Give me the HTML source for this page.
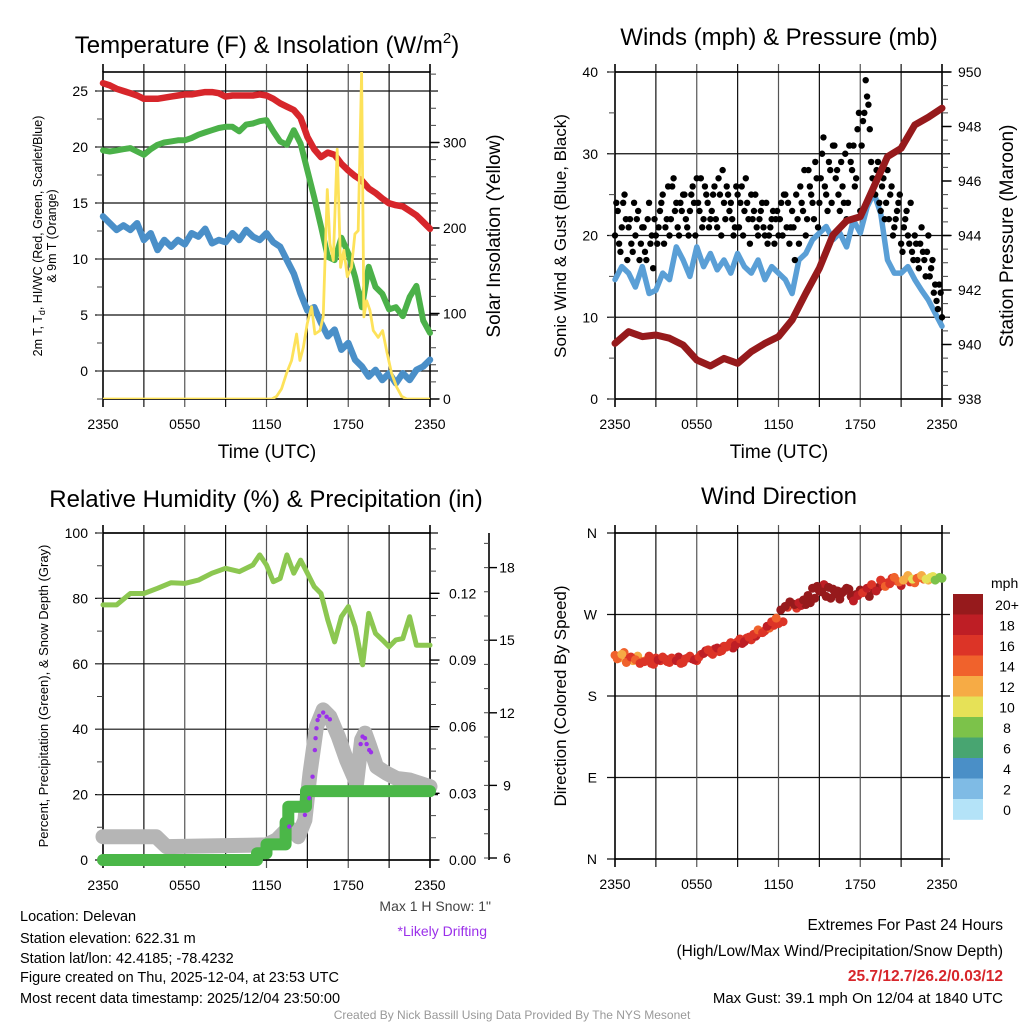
<!DOCTYPE html>
<html><head><meta charset="utf-8"><title>Mesonet Station Meteogram</title>
<style>
html,body{margin:0;padding:0;background:#fff;}
svg{display:block;font-family:"Liberation Sans",Arial,sans-serif;}
</style></head>
<body>
<svg id="chart" width="1024" height="1024" viewBox="0 0 1024 1024" xmlns="http://www.w3.org/2000/svg">
<rect width="1024" height="1024" fill="#fff"/>
</svg>
<script>
// ---------- DATA ----------
const timeLabels = ["2350","0550","1150","1750","2350"];
const timeTickHours = [0,6,12,18,24];
// Panel 1 (half-hourly, h = 0..24)
const tempRed = [25.7,25.5,25.2,25.0,24.8,24.6,24.3,24.3,24.3,24.4,24.5,24.6,24.7,24.7,24.8,24.9,24.9,24.8,24.5,24.6,24.6,24.6,24.6,24.7,24.6,24.3,23.9,23.6,23.3,22.6,20.9,19.8,19.1,19.5,19.3,18.5,17.9,17.4,17.0,16.3,15.9,15.4,14.97,14.8,14.7,14.3,13.9,13.3,12.7];
const tempGreen = [19.7,19.6,19.7,19.8,19.9,19.6,19.3,19.8,20.2,20.4,20.5,20.6,20.6,20.8,21.1,21.3,21.5,21.7,21.8,21.8,21.4,22.0,22.1,22.3,22.4,21.4,20.5,20.2,21.5,20.3,17.9,15.5,12.9,10.2,9.9,11.9,10.5,8.4,5.7,9.3,7.5,6.9,5.5,5.7,4.9,6.6,7.6,4.5,3.4];
const tempBlue = [13.8,13.2,12.6,13.0,12.6,13.2,11.7,12.3,10.8,11.7,11.1,11.7,11.3,12.3,12.0,12.7,11.4,11.7,11.5,12.3,11.7,12.6,12.0,11.7,12.3,11.5,11.1,9.9,8.7,6.9,5.4,5.7,4.3,3.1,3.7,1.9,2.5,1.0,0.4,-0.5,0.1,-0.8,-0.2,-1.1,-0.2,-0.8,0.1,0.4,1.0];
const solarTimes = [0,12.4,12.74,13.11,13.47,13.84,14.21,14.45,14.70,14.99,15.31,15.55,15.92,16.16,16.46,16.65,16.90,17.19,17.44,17.68,17.93,18.24,18.49,18.73,18.98,19.15,19.35,19.59,19.84,20.20,20.52,20.82,21.18,21.55,21.92,22.29,24];
const solarVals  = [0,0,3,12,30,45,76,45,60,88,108,76,80,96,245,182,162,292,154,174,143,154,193,197,382,96,115,104,80,72,80,56,30,14,3,0,0];
// Panel 2
const windSustained = [14.6,16.2,15.4,13.7,16.2,12.9,13.3,15.4,14.6,18.6,17.0,15.0,18.6,16.2,17.8,15.8,17.0,15.4,17.8,16.2,15.4,17.0,14.6,16.2,15.4,14.6,12.9,17.0,17.8,19.5,20.3,21.1,19.5,20.3,18.6,21.9,20.3,23.5,25.2,22.7,17.0,15.4,15.4,16.2,14.6,13.3,12.1,10.5,8.9];
const windGust = [20,23,18,24,22,21, 19,24,22,17,21, 18,22,19,16,20, 21,24,19,22,20, 26,23,21,24,25, 22,20,25,24,27, 23,21,26,24,22, 25,22,27,20,24, 26,23,22,21,25, 24,20,27,22,25, 23,21,22,24,20, 19,21,23,22,20, 24,25,21,19,23, 17,22,26,23,20, 28,25,22,27,24, 30,26,23,28,31, 27,25,29,24,22, 31,28,26,33,23, 34,39,36,29,26, 28,24,26,22,28, 25,20,22,24,19, 21,23,19,18,20, 17,19,18,15,20, 16,13,12,14,10];
const windGust2 = [24,19,21,25,17, 22,18,20,23,19, 21,17,24,20,22, 19,23,25,21,26, 22,27,24,20,23, 25,21,23,26,20, 24,27,22,25,21, 23,26,21,25,28, 22,25,24,20,26, 21,26,23,24,19, 22,25,20,23,21, 24,20,22,19,23, 22,20,25,24,21, 21,25,19,24,28, 22,26,24,29,21, 27,32,25,29,24, 31,28,23,26,30, 24,29,31,27,35, 31,35,37,33,27, 25,29,23,27,24, 22,26,21,23,25, 18,22,20,24,17, 19,16,21,17,18, 15,17,14,11,13];
const pressure = [940.04,940.47,940.29,940.35,940.23,939.98,939.43,939.21,939.49,939.31,939.74,940.04,940.29,940.90,941.88,942.80,944.02,944.54,944.69,945.79,946.89,947.20,948.06,948.34,948.67];
// Panel 3
const rhTimes = [0,1,2,3,4,5,6,7,8,9,10,11,11.5,12,12.5,13,13.5,14,14.5,15,15.5,16,16.5,17,17.5,18,18.5,19.05,19.5,20,20.5,21,21.5,22,22.5,23,24];
const rhVals  = [78.0,78.0,81.5,81.5,83.1,84.8,84.6,85.6,87.7,89.2,88.2,90.2,93.3,90.2,85.1,86.1,93.3,87.7,91.7,87.7,83.6,81.5,73.4,66.7,74.4,77.5,71.3,59.7,75.4,69.3,67.3,65.2,67.3,67.7,74.4,65.7,65.7];
const snowTimes = [0,3.9,4.65,12.0,12.74,13.47,13.96,14.33,14.82,15.19,15.67,16.16,16.65,17.27,17.88,18.61,18.98,19.23,19.59,20.08,20.82,21.55,22.53,24];
const snowVals  = [6.88,6.88,6.47,6.54,6.75,7.16,7.16,6.88,7.57,9.50,11.43,12.12,11.84,11.02,10.05,9.09,10.88,11.16,10.60,9.77,9.50,9.29,9.22,8.95];
const driftTimes = [13.67,14.82,15.14,15.38,15.55,15.60,15.67,15.75,15.87,16.16,16.41,16.65,18.91,19.05,19.23,19.35,19.54,19.67];
const driftVals  = [7.30,7.78,8.47,9.36,10.46,10.95,11.36,11.70,11.87,12.01,11.84,11.73,10.71,11.02,10.95,10.71,10.46,10.37];
const precipTimes = [0,11.3,12.0,13.4,13.6,14.9,24];
const precipVals  = [0,0.003,0.007,0.017,0.024,0.031,0.031];
// Panel 4 (every 1/3 h)
const windDir = [225,222,228,221,219,224,218, 220,216,222,219,221,217, 220,223,217,222,221,219, 226,230,228,232,229,235, 236,233,240,238,244,242, 246,250,252,255,258,260, 262,278,282,277,280,281, 283,288,296,303,300,298, 296,294,299,290,292,297, 295,290,297,300,302,305, 310,307,302,309,306,305, 311,309,308,312,310,310];
const windDirSpeed = [14,13,15,16,13,12,14, 13,16,17,16,18,17, 17,18,16,17,18,17, 17,18,17,18,16,17, 17,18,17,18,16,17, 18,17,17,14,17,16, 17,16,14,17,18,20, 21,20,21,19,20,21, 20,21,21,20,21,21, 19,20,21,22,18,17, 16,17,18,19,16,15, 15,14,13,11,10,8];
// second set, offset by 1/6 h
const windDir2 = [221,226,217,223,220,216, 218,224,215,220,223,218, 222,219,216,221,224,220, 223,227,231,226,233,230, 234,239,236,243,240,245, 248,253,250,257,262,266, 275,279,284,281,283,286, 291,299,301,295,290,288, 293,287,296,298,285,291, 294,299,303,296,308,301, 304,311,306,308,313,309, 310,313,309,311,308,311];
const windDirSpeed2 = [15,13,14,16,15,17, 16,17,16,18,17,16, 17,18,17,16,17,18, 17,18,16,17,18,17, 17,16,18,17,18,16, 17,15,17,18,16,14, 20,21,20,21,19,20, 21,20,21,20,21,20, 20,21,20,21,19,18, 17,18,16,19,17,15, 16,15,14,13,12,11, 14,12,11,10,9,8];
const speedBinLabels = ["0","2","4","6","8","10","12","14","16","18","20+"];
const speedBinColors = ["#b4e3f8","#7fbbe5","#4a8fc7","#48a571","#7cc24a","#e6e157","#f6ab45","#f0622c","#dc3427","#be1e25","#961a1c"];
// Tick label arrays
const tempTicks = [0,5,10,15,20,25];
const solarTicks = [0,100,200,300];
const windTicks = [0,10,20,30,40];
const presTicks = [938,940,942,944,946,948,950];
const rhTicks = [0,20,40,60,80,100];
const precipTicks = ["0.00","0.03","0.06","0.09","0.12"];
const snowTicks = [6,9,12,15,18];
const dirLabels = ["N","E","S","W","N"];
const dirTickDeg = [0,90,180,270,360];

// ---------- HELPERS ----------
const NS = "http://www.w3.org/2000/svg";
const svg = document.getElementById("chart");
function mk(tag, parent){ const e=document.createElementNS(NS,tag); (parent||svg).appendChild(e); return e; }
function txt(parent, x, y, s, size, anchor, fill){
  const t=mk("text",parent); t.setAttribute("x",x); t.setAttribute("y",y);
  t.setAttribute("font-size",size); t.setAttribute("text-anchor",anchor||"start");
  t.setAttribute("fill",fill||"#000"); t.textContent=s; return t;
}
function path(parent, d, stroke, w){
  const p=mk("path",parent); p.setAttribute("d",d); p.setAttribute("fill","none");
  p.setAttribute("stroke",stroke); p.setAttribute("stroke-width",w);
  p.setAttribute("stroke-linejoin","round"); p.setAttribute("stroke-linecap","round"); return p;
}
function lineD(ts, vs, xs, ys){ return ts.map((t,i)=>(i?"L":"M")+xs(t).toFixed(1)+","+ys(vs[i]).toFixed(1)).join(""); }
function idxTimes(n, step){ const a=[]; for(let i=0;i<n;i++) a.push(i*step); return a; }

function frame(g, P, name){
  for(let h=3; h<24; h+=3){
    const x=P.xs(h);
    const l=mk("line",g); l.setAttribute("x1",x); l.setAttribute("x2",x); l.setAttribute("y1",P.y0-8); l.setAttribute("y2",P.y1+8);
    l.setAttribute("stroke",(h%6===0)?"#555":"#111"); l.setAttribute("stroke-width",1.2);
    
    
  }
  const r=mk("rect",g); r.setAttribute("x",P.x0); r.setAttribute("y",P.y0); r.setAttribute("width",P.x1-P.x0); r.setAttribute("height",P.y1-P.y0);
  r.setAttribute("fill","none"); r.setAttribute("stroke","#000"); r.setAttribute("stroke-width",1.6);
  
  
  [0,24].forEach(h=>{ const x=P.xs(h); path(g,"M"+x+","+(P.y0-8)+"L"+x+","+P.y0+"M"+x+","+P.y1+"L"+x+","+(P.y1+8),"#000",1.6).setAttribute("stroke-linecap","butt"); });
  timeLabels.forEach((s,i)=>{ const t=txt(g,P.xs(timeTickHours[i]),P.y1+30,s,14,"middle");
    
     });
}
function hgrid(g, P, vals, ys, name){
  vals.forEach(v=>{ const y=ys(v); const l=mk("line",g); l.setAttribute("x1",P.x0-8); l.setAttribute("x2",P.x1+8); l.setAttribute("y1",y); l.setAttribute("y2",y);
    l.setAttribute("stroke","#111"); l.setAttribute("stroke-width",1.2);
    
     });
}
function minorTicks(g, x, from, to, step, ys, dir, len){
  let d=""; for(let v=from; v<=to+1e-9; v+=step){ const y=ys(v); d+="M"+x+","+y.toFixed(1)+"L"+(x+dir*len)+","+y.toFixed(1); }
  path(g,d,"#444",1).setAttribute("stroke-linecap","butt");
}
function rotText(parent, x, y, s, size, fill){
  const t=txt(parent,0,0,s,size,"middle",fill); t.setAttribute("transform","translate("+x+","+y+") rotate(-90)"); return t;
}

// ================= PANEL 1 =================
const P1={x0:103,x1:430,y0:72,y1:399}; P1.xs=h=>P1.x0+h/24*(P1.x1-P1.x0);
const yT=v=>371-v*11.2, yS=v=>399-v*0.855;
const g1=mk("g");  
hgrid(g1,P1,tempTicks,yT,"temp");
frame(g1,P1,"temp");
minorTicks(g1,P1.x0,-2.5,25,2.5,yT,-1,6);
minorTicks(g1,P1.x1,0,380,20,yS,1,6);
tempTicks.forEach(v=>{ const t=txt(g1,88,yT(v)+5,String(v),14,"end");   });
solarTicks.forEach(v=>{ path(g1,"M"+P1.x1+","+yS(v)+"L"+(P1.x1+9)+","+yS(v),"#000",1.4);
  const t=txt(g1,443,yS(v)+5,String(v),14,"start");   });
const half=idxTimes(49,0.5);
const sRed=path(g1,lineD(half,tempRed,P1.xs,yT),"#d7262b",6.5);  
const sGrn=path(g1,lineD(half,tempGreen,P1.xs,yT),"#4bb149",6);  
const sBlu=path(g1,lineD(half,tempBlue,P1.xs,yT),"#4a8fc8",6.5);  
const cp=mk("clipPath"); cp.setAttribute("id","c1"); const cr=mk("rect",cp); cr.setAttribute("x",P1.x0); cr.setAttribute("y",P1.y0); cr.setAttribute("width",P1.x1-P1.x0); cr.setAttribute("height",P1.y1-P1.y0);
const sSol=path(g1,lineD(solarTimes,solarVals,P1.xs,yS),"#fde25a",2.8); sSol.setAttribute("clip-path","url(#c1)");  
const t1=txt(g1,267,53,"Temperature (F) & Insolation (W/m",24,"middle"); const sup=mk("tspan",t1); sup.setAttribute("dy",-10); sup.setAttribute("font-size",15); sup.textContent="2"; const cl=mk("tspan",t1); cl.setAttribute("dy",10); cl.textContent=")";
 
const xt1=txt(g1,267,458,"Time (UTC)",19,"middle");  
const yl1=rotText(g1,42,236,"",12.5); yl1.textContent="2m T, T"; const sb=mk("tspan",yl1); sb.setAttribute("font-size",9); sb.setAttribute("dy",3); sb.textContent="d"; const sb2=mk("tspan",yl1); sb2.setAttribute("dy",-3); sb2.textContent=", HI/WC (Red, Green, Scarlet/Blue)";
 
const yl1b=rotText(g1,56,236,"& 9m T (Orange)",12.5);  
const yr1=rotText(g1,500,236,"Solar Insolation (Yellow)",19);  

// ================= PANEL 2 =================
const P2={x0:615,x1:942,y0:72,y1:399}; P2.xs=h=>P2.x0+h/24*(P2.x1-P2.x0);
const yW=v=>399-v*8.175, yP=v=>399-(v-938)*27.25;
const g2=mk("g");  
hgrid(g2,P2,windTicks,yW,"wind");
frame(g2,P2,"wind");
minorTicks(g2,P2.x0,0,40,5,yW,-1,6);
minorTicks(g2,P2.x1,938,950,0.5,yP,1,6);
windTicks.forEach(v=>{ const t=txt(g2,598,yW(v)+5,String(v),14,"end");   });
presTicks.forEach(v=>{ path(g2,"M"+P2.x1+","+yP(v)+"L"+(P2.x1+9)+","+yP(v),"#000",1.4);
  const t=txt(g2,958,yP(v)+5,String(v),14,"start");   });
const sWind=path(g2,lineD(half,windSustained,P2.xs,yW),"#5a9fd6",5.5);  
windGust.forEach((v,i)=>{ const c=mk("circle",g2); c.setAttribute("cx",P2.xs(i*0.2)); c.setAttribute("cy",yW(v)); c.setAttribute("r",3.2); c.setAttribute("fill","#000");
    });
windGust2.forEach((v,i)=>{ const c=mk("circle",g2); c.setAttribute("cx",P2.xs(0.1+i*0.2)); c.setAttribute("cy",yW(v)); c.setAttribute("r",3.2); c.setAttribute("fill","#000");
    });
const sPres=path(g2,lineD(idxTimes(25,1),pressure,P2.xs,yP),"#961a1c",7);  
const t2=txt(g2,779,45,"Winds (mph) & Pressure (mb)",24,"middle");  
const xt2=txt(g2,779,458,"Time (UTC)",19,"middle");  
const yl2=rotText(g2,566,236,"Sonic Wind & Gust (Blue, Black)",17);  
const yr2=rotText(g2,1013,236,"Station Pressure (Maroon)",19);  

// ================= PANEL 3 =================
const P3={x0:103,x1:430,y0:533,y1:860}; P3.xs=h=>P3.x0+h/24*(P3.x1-P3.x0);
const yR=v=>860-v*3.27, yPr=v=>860-v*2222, ySn=v=>858-(v-6)*24.2;
const g3=mk("g");  
hgrid(g3,P3,rhTicks,yR,"rh");
frame(g3,P3,"rh");
minorTicks(g3,P3.x0,0,100,10,yR,-1,6);
minorTicks(g3,P3.x1,0,0.147,0.01,yPr,1,6);
rhTicks.forEach(v=>{ const t=txt(g3,88,yR(v)+5,String(v),14,"end");   });
precipTicks.forEach(s=>{ const v=parseFloat(s); path(g3,"M"+P3.x1+","+yPr(v)+"L"+(P3.x1+9)+","+yPr(v),"#000",1.4);
  const t=txt(g3,449,yPr(v)+5,s,14,"start");   });
const sax=path(g3,"M489,533L489,860","#000",1.6); sax.setAttribute("stroke-linecap","butt");  
minorTicks(g3,489,6,19,1,ySn,-1,5);
snowTicks.forEach(v=>{ path(g3,"M489,"+ySn(v)+"L497,"+ySn(v),"#000",1.4).setAttribute("stroke-linecap","butt");
  const t=txt(g3,507,ySn(v)+5,String(v),14,"middle");   });
const sRh=path(g3,lineD(rhTimes,rhVals,P3.xs,yR),"#8cc751",5);  
const sSn=path(g3,lineD(snowTimes,snowVals,P3.xs,ySn),"#b5b5b5",15);  
let pd=""; precipTimes.forEach((t,i)=>{ const x=P3.xs(t).toFixed(1), y=yPr(precipVals[i]).toFixed(1);
  if(i===0) pd+="M"+x+","+y; else { pd+="L"+x+","+yPr(precipVals[i-1]).toFixed(1)+"L"+x+","+y; } });
const sPr=path(g3,pd,"#4bb748",12);  
driftVals.forEach((v,i)=>{ const c=mk("circle",g3); c.setAttribute("cx",P3.xs(driftTimes[i])); c.setAttribute("cy",ySn(v)); c.setAttribute("r",2.2); c.setAttribute("fill","#9b30ea");
    });
const t3=txt(g3,266,507,"Relative Humidity (%) & Precipitation (in)",24,"middle");  
const yl3=rotText(g3,48,696,"Percent, Precipitation (Green), & Snow Depth (Gray)",13);  
const ms=txt(g3,491,911,"Max 1 H Snow: 1\"",14,"end","#444");  
const ld=txt(g3,487,936,"*Likely Drifting",14,"end","#9b30ea");  

// ================= PANEL 4 =================
const P4={x0:615,x1:942,y0:533,y1:859}; P4.xs=h=>P4.x0+h/24*(P4.x1-P4.x0);
const yD=d=>859-d*326/360;
const g4=mk("g");  
hgrid(g4,P4,dirTickDeg,yD,"dir");
frame(g4,P4,"dir");
dirLabels.forEach((s,i)=>{ const t=txt(g4,597,yD(dirTickDeg[i])+5,s,14,"end");   });
windDir.forEach((d,i)=>{ const c=mk("circle",g4); c.setAttribute("cx",P4.xs(i/3)); c.setAttribute("cy",yD(d)); c.setAttribute("r",4.5);
  c.setAttribute("fill",speedBinColors[Math.min(10,Math.floor(windDirSpeed[i]/2))]);
    });
windDir2.forEach((d,i)=>{ const c=mk("circle",g4); c.setAttribute("cx",P4.xs(i/3+1/6)); c.setAttribute("cy",yD(d)); c.setAttribute("r",4.5);
  c.setAttribute("fill",speedBinColors[Math.min(10,Math.floor(windDirSpeed2[i]/2))]);
    });
const t4=txt(g4,779,504,"Wind Direction",24,"middle");  
const yl4=rotText(g4,566,696,"Direction (Colored By Speed)",17);  
const cb=mk("g",g4);  
const mph=txt(cb,991,588,"mph",14,"start");  
speedBinLabels.forEach((s,i)=>{ const k=10-i; const y=594+i*20.5;
  const r=mk("rect",cb); r.setAttribute("x",953); r.setAttribute("y",y); r.setAttribute("width",30); r.setAttribute("height",20.8); r.setAttribute("fill",speedBinColors[k]);
   
  const t=txt(cb,1007,y+16,speedBinLabels[k],14,"middle");   });

// ================= FOOTER TEXT =================
const info=["Location: Delevan","Station elevation: 622.31 m","Station lat/lon: 42.4185; -78.4232","Figure created on Thu, 2025-12-04, at 23:53 UTC","Most recent data timestamp: 2025/12/04 23:50:00"];
const infoY=[921,943,963,982,1003];
info.forEach((s,i)=>{ const t=txt(svg,20,infoY[i],s,14.5,"start");   });
const e1=txt(svg,1003,930,"Extremes For Past 24 Hours",15.5,"end");  
const e2=txt(svg,1003,956,"(High/Low/Max Wind/Precipitation/Snow Depth)",15.5,"end");  
const e3=txt(svg,1003,981,"25.7/12.7/26.2/0.03/12",15.5,"end","#d7262b"); e3.setAttribute("font-weight","bold");  
const e4=txt(svg,1003,1003,"Max Gust: 39.1 mph On 12/04 at 1840 UTC",15,"end");  
const cr2=txt(svg,512,1019,"Created By Nick Bassill Using Data Provided By The NYS Mesonet",12,"middle","#999");  
</script>
</body></html>
